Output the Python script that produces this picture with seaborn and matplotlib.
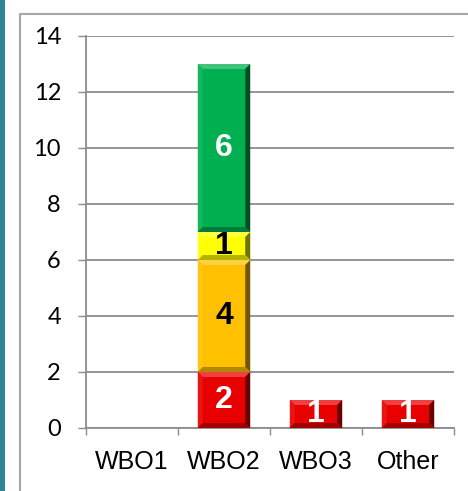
import matplotlib
matplotlib.use("Agg")
import matplotlib.pyplot as plt
from matplotlib.lines import Line2D
from matplotlib.patches import Polygon, Rectangle
from matplotlib.colors import to_rgb
import numpy as np
import seaborn as sns

# data
categories = ["WBO1", "WBO2", "WBO3", "Other"]
red_vals = [0, 2, 1, 1]
orange_vals = [0, 4, 0, 0]
yellow_vals = [0, 1, 0, 0]
green_vals = [0, 6, 0, 0]

segments = [
    (red_vals, "#E80000", "white"),
    (orange_vals, "#FFC000", "black"),
    (yellow_vals, "#FFFF00", "black"),
    (green_vals, "#00B050", "white"),
]

sns.set_style("white")
plt.rcParams["font.family"] = ["Liberation Sans", "DejaVu Sans"]

fig = plt.figure(figsize=(4.68, 4.91), dpi=100)
ax = fig.add_axes([86 / 468, 63 / 491, 368 / 468, 392 / 491])

GRAY = "#8C8C8C"
bar_w = 0.57

bottoms = np.zeros(len(categories))
for vals, color, txt in segments:
    sns.barplot(x=categories, y=vals, bottom=bottoms.copy(), color=color,
                width=bar_w, order=categories, linewidth=0, ax=ax,
                saturation=1, zorder=3)
    for i, v in enumerate(vals):
        if v > 0:
            ax.text(i, bottoms[i] + v / 2, str(v), ha="center", va="center",
                    fontsize=23, fontweight="bold", color=txt, zorder=6)
    bottoms += np.array(vals)

# bevel look on each bar segment
bx = 5 * 4 / 368
by = 5 / 28


def mix(c, target, t):
    c = np.array(to_rgb(c))
    return tuple(c * (1 - t) + np.array(target) * t)


for p in list(ax.patches):
    h = p.get_height()
    if h <= 0:
        continue
    x0, y0 = p.get_x(), p.get_y()
    x1, y1 = x0 + p.get_width(), y0 + h
    c = p.get_facecolor()[:3]
    faces = [
        ([(x0, y1), (x1, y1), (x1 - bx, y1 - by), (x0 + bx, y1 - by)], mix(c, (1, 1, 1), 0.25)),
        ([(x0, y0), (x0, y1), (x0 + bx, y1 - by), (x0 + bx, y0 + by)], mix(c, (1, 1, 1), 0.08)),
        ([(x1, y0), (x1, y1), (x1 - bx, y1 - by), (x1 - bx, y0 + by)], mix(c, (0, 0, 0), 0.55)),
        ([(x0, y0), (x1, y0), (x1 - bx, y0 + by), (x0 + bx, y0 + by)], mix(c, (0, 0, 0), 0.3)),
    ]
    for pts, fc in faces:
        ax.add_patch(Polygon(pts, closed=True, facecolor=fc, edgecolor="none", zorder=4))

ax.set_ylim(0, 14)
ax.set_xlim(-0.5, 3.5)
ax.set_yticks(range(0, 15, 2))
ax.set_xticks(range(len(categories)))
ax.set_xticklabels(categories)
ax.set_xticks(np.arange(-0.5, 4, 1), minor=True)
ax.set_xlabel("")
ax.set_ylabel("")

ax.grid(axis="y", color=GRAY, linewidth=1.3, zorder=0)
ax.grid(axis="x", visible=False)
ax.set_axisbelow(True)

for s in ["top", "right"]:
    ax.spines[s].set_visible(False)
for s in ["left", "bottom"]:
    ax.spines[s].set_color(GRAY)
    ax.spines[s].set_linewidth(1.3)

ax.tick_params(axis="y", which="major", length=6, width=1, color=GRAY, direction="out",
               pad=12, labelsize=17, left=True, labelcolor="black")
for lab in ax.get_yticklabels():
    lab.set_family(["Lato", "DejaVu Sans"])
ax.tick_params(axis="x", which="major", length=0, pad=16, labelsize=18, labelcolor="black")
ax.tick_params(axis="x", which="minor", length=5, width=1, color=GRAY, direction="out", bottom=True)

# chart frame and side band
fig.add_artist(Rectangle((0, 0), 5 / 468, 1, transform=fig.transFigure,
                         facecolor="#2F8699", edgecolor="none"))
fig.add_artist(Line2D([20 / 468, 1], [1 - 14 / 491, 1 - 14 / 491],
                      transform=fig.transFigure, color="#A6A6A6", linewidth=1.5))
fig.add_artist(Line2D([20 / 468, 20 / 468], [0, 1 - 14 / 491],
                      transform=fig.transFigure, color="#A6A6A6", linewidth=1.5))

fig.savefig("out.png", dpi=100)
